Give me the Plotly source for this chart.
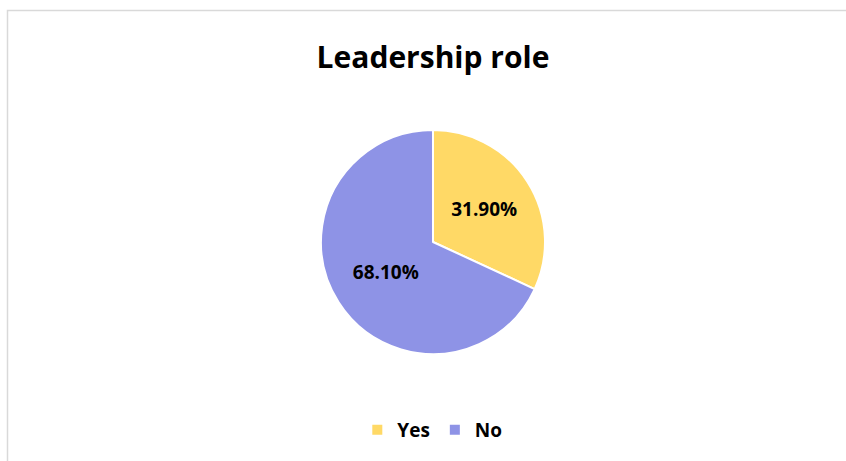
import plotly.graph_objects as go

# Survey answers for holding a leadership role (percent of respondents)
labels = ["Yes", "No"]
values = [31.9, 68.1]
colors = ["#FFD966", "#8E93E6"]

W, H = 846, 461

fig = go.Figure(
    go.Pie(
        labels=labels,
        values=values,
        sort=False,
        direction="clockwise",
        rotation=0,
        marker=dict(colors=colors, line=dict(color="white", width=2)),
        texttemplate="%{percent:.2%}",
        textposition="inside",
        insidetextorientation="horizontal",
        textfont=dict(family="Open Sans", size=19, color="black", weight="bold"),
        hoverinfo="label+percent",
        domain=dict(x=[321 / W, 545 / W], y=[1 - 354 / H, 1 - 130 / H]),
    )
)

fig.update_layout(
    width=W,
    height=H,
    margin=dict(l=0, r=0, t=0, b=0),
    paper_bgcolor="white",
    plot_bgcolor="white",
    title=dict(
        text="<b>Leadership role</b>",
        x=433 / W,
        xanchor="center",
        y=1 - 57 / H,
        yanchor="middle",
        font=dict(family="Open Sans", size=30, color="black"),
    ),
    legend=dict(
        orientation="h",
        x=0.511,
        xanchor="center",
        y=1 - 430 / H,
        yanchor="middle",
        font=dict(family="Open Sans", size=19, color="black", weight="bold"),
        itemwidth=30,
    ),
    shapes=[
        dict(
            type="rect",
            xref="paper",
            yref="paper",
            x0=7.5 / W,
            x1=1.05,
            y0=-0.05,
            y1=1 - 10.5 / H,
            line=dict(color="#D9D9D9", width=1.5),
            layer="below",
        )
    ],
)

fig.write_html("out.html")
